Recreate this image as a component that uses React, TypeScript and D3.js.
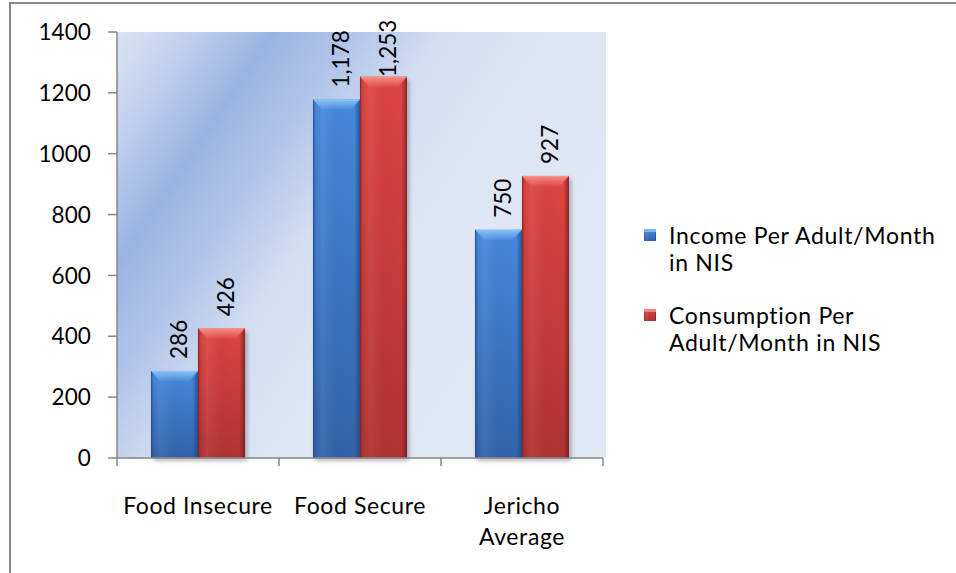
import React from "react";
import * as d3 from "d3";

// Chart values
const categories = ["Food Insecure", "Food Secure", "Jericho\nAverage"];
const seriesNames = ["Income Per Adult/Month\nin NIS", "Consumption Per\nAdult/Month in NIS"];
const income = [286, 1178, 750];
const consumption = [426, 1253, 927];
const yTicks = [0, 200, 400, 600, 800, 1000, 1200, 1400];

const W = 956;
const H = 573;
const FONT = "Lato, 'Open Sans', sans-serif";

const plot = { left: 117, right: 603, top: 32, bottom: 458 };

const palette = [
  { hi: "#8cc4f8", top: "#4689dc", bottom: "#3363aa", edge: "#1f437d" },
  { hi: "#f79288", top: "#df4542", bottom: "#b03333", edge: "#6e1c1c" },
];

export default function App() {
  const x = d3
    .scaleBand<string>()
    .domain(categories)
    .range([plot.left, plot.right])
    .paddingInner(0.42)
    .paddingOuter(0.21);
  const xs = d3
    .scaleBand<number>()
    .domain([0, 1])
    .range([0, x.bandwidth()]);
  const y = d3.scaleLinear().domain([0, 1400]).range([plot.bottom, plot.top]);

  const series = [income, consumption];
  const fmt = d3.format(",");

  const bars = categories.flatMap((c, ci) =>
    series.map((vals, si) => {
      const v = vals[ci];
      const bx = (x(c) as number) + (xs(si) as number);
      const bw = xs.bandwidth();
      const by = y(v);
      const bh = y(0) - by;
      return { c, ci, si, v, bx, bw, by, bh };
    })
  );

  return (
    <svg
      width={W}
      height={H}
      style={{ position: "fixed", left: 0, top: 0, background: "#fff" }}
      fontFamily={FONT}
    >
      <defs>
        <linearGradient
          id="plotBg"
          gradientUnits="userSpaceOnUse"
          x1={plot.left}
          y1={plot.top}
          x2={plot.left + 536}
          y2={plot.top + 360}
        >
          <stop offset="0" stopColor="#dbe3f3" />
          <stop offset="0.09" stopColor="#c2d1ee" />
          <stop offset="0.2" stopColor="#9ab4e2" />
          <stop offset="0.3" stopColor="#b0c4e9" />
          <stop offset="0.42" stopColor="#d2ddf1" />
          <stop offset="0.56" stopColor="#dee5f4" />
          <stop offset="1" stopColor="#e0e7f4" />
        </linearGradient>
        {palette.map((p, i) => (
          <React.Fragment key={i}>
            <linearGradient id={`body${i}`} x1="0" y1="0" x2="0" y2="1">
              <stop offset="0" stopColor={p.top} />
              <stop offset="1" stopColor={p.bottom} />
            </linearGradient>
            <linearGradient id={`bevel${i}`} x1="0" y1="0" x2="0" y2="1">
              <stop offset="0" stopColor={p.hi} stopOpacity="0.95" />
              <stop offset="1" stopColor={p.hi} stopOpacity="0.1" />
            </linearGradient>
            <linearGradient id={`sides${i}`} x1="0" y1="0" x2="1" y2="0">
              <stop offset="0" stopColor={p.edge} stopOpacity="0.55" />
              <stop offset="0.06" stopColor={p.edge} stopOpacity="0.05" />
              <stop offset="0.2" stopColor="#ffffff" stopOpacity="0.06" />
              <stop offset="0.5" stopColor={p.edge} stopOpacity="0.04" />
              <stop offset="0.88" stopColor={p.edge} stopOpacity="0" />
              <stop offset="1" stopColor={p.edge} stopOpacity="0.75" />
            </linearGradient>
          </React.Fragment>
        ))}
        <filter id="barShadow" x="-20%" y="-5%" width="150%" height="120%">
          <feGaussianBlur stdDeviation="2.2" />
        </filter>
      </defs>

      {/* chart frame */}
      <rect x={10} y={3} width={1000} height={1000} fill="#fff" stroke="#8a8a8a" strokeWidth={2} />

      {/* plot area */}
      <rect
        x={plot.left}
        y={plot.top}
        width={plot.right - plot.left + 3}
        height={plot.bottom - plot.top}
        fill="url(#plotBg)"
      />

      {/* shadows */}
      {bars.map((b) => (
        <rect
          key={`s${b.ci}-${b.si}`}
          x={b.bx + 2}
          y={b.by + 3}
          width={b.bw}
          height={b.bh}
          fill="#000"
          opacity={0.28}
          filter="url(#barShadow)"
        />
      ))}

      {/* bars */}
      {bars.map((b) => {
        const bev = 10;
        const ins = 9;
        const p = palette[b.si];
        return (
          <g key={`b${b.ci}-${b.si}`}>
            <rect x={b.bx} y={b.by} width={b.bw} height={b.bh} fill={`url(#body${b.si})`} />
            <rect x={b.bx} y={b.by} width={b.bw} height={b.bh} fill={`url(#sides${b.si})`} />
            <polygon
              points={[
                [b.bx, b.by],
                [b.bx + b.bw, b.by],
                [b.bx + b.bw - ins, b.by + bev],
                [b.bx + ins, b.by + bev],
              ]
                .map((q) => q.join(","))
                .join(" ")}
              fill={`url(#bevel${b.si})`}
            />
            <line
              x1={b.bx + 1}
              x2={b.bx + b.bw - 1}
              y1={b.by + 0.5}
              y2={b.by + 0.5}
              stroke={p.hi}
              strokeOpacity={0.9}
            />
            <line
              x1={b.bx + 0.5}
              x2={b.bx + 0.5}
              y1={b.by}
              y2={b.by + b.bh}
              stroke={p.edge}
              strokeOpacity={0.35}
            />
          </g>
        );
      })}

      {/* value labels */}
      {bars.map((b) => {
        const cx = b.bx + b.bw / 2 + 4;
        const len = String(fmt(b.v)).length * 12.8;
        const start = Math.max(b.by - 12, 13 + len);
        return (
          <text
            key={`l${b.ci}-${b.si}`}
            transform={`translate(${cx},${start}) rotate(-90)`}
            dy="0.36em"
            fontSize={22.5}
            fill="#000"
          >
            {fmt(b.v)}
          </text>
        );
      })}

      {/* y axis */}
      <line x1={plot.left} x2={plot.left} y1={plot.top} y2={plot.bottom} stroke="#868686" strokeWidth={1.5} />
      {yTicks.map((t) => (
        <g key={t}>
          <line x1={plot.left - 9} x2={plot.left} y1={y(t)} y2={y(t)} stroke="#868686" strokeWidth={1.5} />
          <text x={91} y={y(t)} dy="0.36em" textAnchor="end" fontSize={22.5} letterSpacing={0.1} fill="#000">
            {t}
          </text>
        </g>
      ))}

      {/* x axis */}
      <line x1={plot.left} x2={plot.right} y1={plot.bottom} y2={plot.bottom} stroke="#868686" strokeWidth={1.5} />
      {[0, 1, 2, 3].map((i) => {
        const xv = plot.left + x.step() * i;
        return (
          <line key={i} x1={xv} x2={xv} y1={plot.bottom} y2={plot.bottom + 8} stroke="#868686" strokeWidth={1.5} />
        );
      })}
      {categories.map((c) => {
        const cx = (x(c) as number) + x.bandwidth() / 2;
        return (
          <text key={c} x={cx} y={514} textAnchor="middle" fontSize={23} letterSpacing={0.6} fill="#000">
            {c.split("\n").map((ln, li) => (
              <tspan key={li} x={cx} dy={li === 0 ? 0 : 31}>
                {ln}
              </tspan>
            ))}
          </text>
        );
      })}

      {/* legend */}
      {seriesNames.map((name, si) => {
        const ly = 236 + si * 80;
        return (
          <g key={name}>
            <rect x={644} y={ly - 7} width={12} height={12} fill={`url(#body${si})`} />
            <rect x={644} y={ly - 7} width={12} height={12} fill={`url(#sides${si})`} />
            <rect x={644} y={ly - 7} width={12} height={3} fill={palette[si].hi} opacity={0.8} />
            <text x={669} y={ly} fontSize={23} letterSpacing={0.7} fill="#000">
              {name.split("\n").map((ln, li) => (
                <tspan key={li} x={669} dy={li === 0 ? "0.36em" : 27}>
                  {ln}
                </tspan>
              ))}
            </text>
          </g>
        );
      })}
    </svg>
  );
}
